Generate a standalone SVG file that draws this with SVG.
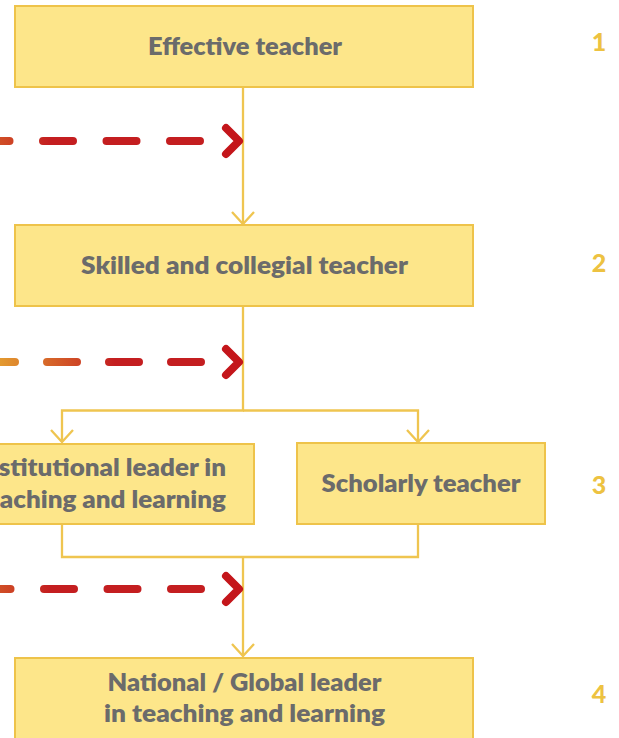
<svg xmlns="http://www.w3.org/2000/svg" width="619" height="738" viewBox="0 0 619 738">
<style>
.box{fill:#fde68a;stroke:#eec34a;stroke-width:2}
.lbl{font-family:Lato,"Open Sans","DejaVu Sans",sans-serif;font-weight:800;font-size:24px;fill:#6b6b6b;text-anchor:middle}
.num{font-family:Lato,"Open Sans","DejaVu Sans",sans-serif;font-weight:900;font-size:25px;fill:#edc241;text-anchor:middle}
.con{fill:none;stroke:#efc550;stroke-width:2.3}
.dash{fill:none;stroke-width:8;stroke-linecap:round;stroke-dasharray:30 33.5}
.chev{fill:none;stroke:#c4161b;stroke-width:8;stroke-linecap:round;stroke-linejoin:round}
</style>
<defs>
<marker id="vh" markerUnits="userSpaceOnUse" markerWidth="30" markerHeight="30" refX="0" refY="0" orient="auto" overflow="visible">
<path d="M-12,-11 L0,0 L-12,11" fill="none" stroke="#efc550" stroke-width="2.3"/>
</marker>
<linearGradient id="g1" gradientUnits="userSpaceOnUse" x1="-80" y1="0" x2="50" y2="0">
<stop offset="0" stop-color="#e39a30"/><stop offset="1" stop-color="#c41e20"/>
</linearGradient>
<linearGradient id="g2" gradientUnits="userSpaceOnUse" x1="0" y1="0" x2="115" y2="0">
<stop offset="0" stop-color="#e39a30"/><stop offset="1" stop-color="#c41e20"/>
</linearGradient>
</defs>

<g id="connectors">
<path class="con" d="M243,87 V224" marker-end="url(#vh)"/>
<path class="con" d="M243,306 V410.5 H62 V442" marker-end="url(#vh)"/>
<path class="con" d="M243,410.5 H418 V442" marker-end="url(#vh)"/>
<path class="con" d="M62,524 V557 H418 V524"/>
<path class="con" d="M243,557 V656" marker-end="url(#vh)"/>
</g>

<g id="progressions">
<path class="dash" stroke="url(#g1)" d="M200,141 H-100"/>
<path class="chev" d="M226,128 L239,141 L226,154"/>
<path class="dash" stroke="url(#g2)" style="stroke-dasharray:30 32" d="M201,362 H-100"/>
<path class="chev" d="M226,349 L239,362 L226,375"/>
<path class="dash" stroke="url(#g1)" d="M201,589 H-100"/>
<path class="chev" d="M226,576 L239,589 L226,602"/>
</g>

<g id="node-effective">
<rect class="box" x="15" y="6" width="458" height="81"/>
<text class="lbl" x="245" y="55" textLength="194" lengthAdjust="spacingAndGlyphs">Effective teacher</text>
</g>
<g id="node-skilled">
<rect class="box" x="15" y="225" width="458" height="81"/>
<text class="lbl" x="244.5" y="274" textLength="327" lengthAdjust="spacingAndGlyphs">Skilled and collegial teacher</text>
</g>
<g id="node-institutional">
<rect class="box" x="-40" y="444" width="294" height="80"/>
<text class="lbl" x="101" y="476" textLength="250" lengthAdjust="spacingAndGlyphs">Institutional leader in</text>
<text class="lbl" x="101" y="508" textLength="250" lengthAdjust="spacingAndGlyphs">teaching and learning</text>
</g>
<g id="node-scholarly">
<rect class="box" x="297" y="443" width="248" height="81"/>
<text class="lbl" x="421" y="492" textLength="199" lengthAdjust="spacingAndGlyphs">Scholarly teacher</text>
</g>
<g id="node-national">
<rect class="box" x="15" y="658" width="458" height="100"/>
<text class="lbl" x="244.5" y="691" textLength="274" lengthAdjust="spacingAndGlyphs">National / Global leader</text>
<text class="lbl" x="244.5" y="722" textLength="281" lengthAdjust="spacingAndGlyphs">in teaching and learning</text>
</g>

<g id="levels">
<text class="num" x="599" y="50.5">1</text>
<text class="num" x="599" y="271.5">2</text>
<text class="num" x="599" y="493.5">3</text>
<text class="num" x="599" y="703">4</text>
</g>
</svg>
